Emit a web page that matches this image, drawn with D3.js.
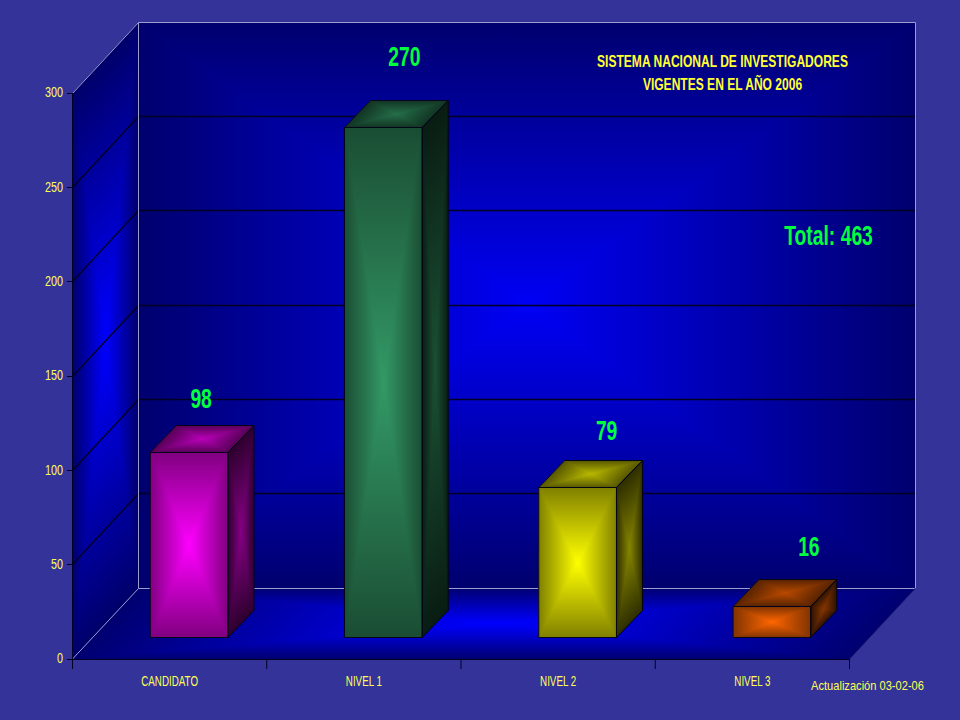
<!DOCTYPE html>
<html>
<head>
<meta charset="utf-8">
<script src="https://cdn.jsdelivr.net/npm/d3@7"></script>
<style>
  html, body { margin: 0; padding: 0; background: #333399; overflow: hidden; }
  text { font-family: "Liberation Sans", Arial, sans-serif; }
</style>
</head>
<body>
<div id="chart"></div>
<script>
//DATA
var categories = ["CANDIDATO", "NIVEL 1", "NIVEL 2", "NIVEL 3"];
var values = [98, 270, 79, 16];
var barColors = ["#ff00ff", "#339966", "#ffff00", "#ff6600"];
var yTicks = [0, 50, 100, 150, 200, 250, 300];
var titleLines = ["SISTEMA NACIONAL DE INVESTIGADORES", "VIGENTES EN EL AÑO 2006"];
var totalLabel = "Total: 463";
var updateLabel = "Actualización 03-02-06";

//SIZING
var width = 960, height = 720;
var plotLeft = 72.5, plotRight = 849.5, plotBottom = 659, plotTop = 93;
// how far the back wall sits from the front of the box
var wallDx = 66, wallDy = -71;
// bars stand a bit inside the floor and have their own depth
var barDx = 19.5, barDy = -22, depthDx = 26, depthDy = -27;
// the value labels were placed by hand in the original
var labelNudge = [[12, -27], [21, -44], [29, -30], [37, -33]];

var svg = d3.select("#chart").append("svg")
    .attr("width", width)
    .attr("height", height);
var defs = svg.append("defs");

var x = d3.scaleBand().domain(categories).range([plotLeft, plotRight]);
var y = d3.scaleLinear().domain([0, 300]).range([plotBottom, plotTop]);

var gradCount = 0;

// paints a parallelogram darker at the edges, brightest at its middle point
// p = corner, u and v = the two side vectors
function pathGradient(parent, p, u, v, edge, centre) {
    var id = "g" + (gradCount++);
    var vert = defs.append("linearGradient").attr("id", id + "v")
        .attr("gradientUnits", "userSpaceOnUse")
        .attr("x1", 0).attr("y1", 0).attr("x2", 0).attr("y2", 1);
    var horiz = defs.append("linearGradient").attr("id", id + "h")
        .attr("gradientUnits", "userSpaceOnUse")
        .attr("x1", 0).attr("y1", 0).attr("x2", 1).attr("y2", 0);
    [vert, horiz].forEach(function (g) {
        g.append("stop").attr("offset", 0).attr("stop-color", edge);
        g.append("stop").attr("offset", 0.5).attr("stop-color", centre);
        g.append("stop").attr("offset", 1).attr("stop-color", edge);
    });
    var face = parent.append("g")
        .attr("transform", "matrix(" + [u[0], u[1], v[0], v[1], p[0], p[1]].join(",") + ")");
    face.append("rect")
        .attr("width", 1).attr("height", 1)
        .attr("fill", "url(#" + id + "v)");
    face.append("path")
        .attr("d", "M0,0L0.5,0.5L0,1ZM1,0L0.5,0.5L1,1Z")
        .attr("fill", "url(#" + id + "h)");
}

function shade(color, k) {
    var c = d3.rgb(color);
    return d3.rgb(c.r * k, c.g * k, c.b * k).formatHex();
}

function outline(parent, points, color) {
    parent.append("polygon")
        .attr("points", points.map(function (d) { return d.join(","); }).join(" "))
        .attr("fill", "none")
        .attr("stroke", color)
        .attr("stroke-width", 1)
        .attr("stroke-linejoin", "round");
}

// narrow text: the original font is squeezed sideways
function squeezed(txt, cx, cy, size, sx, color, weight, anchor) {
    return svg.append("text")
        .attr("transform", "translate(" + cx + "," + cy + ") scale(" + sx + ",1)")
        .attr("text-anchor", anchor || "middle")
        .attr("dominant-baseline", "central")
        .style("font-size", size + "px")
        .style("font-weight", weight || "normal")
        .attr("fill", color)
        .text(txt);
}

// keeps thin lines on a whole pixel row
function snap(v) {
    return Math.floor(v) + 0.5;
}

//WALLS
var walls = svg.append("g");
var plotW = plotRight - plotLeft, plotH = plotBottom - plotTop;
var wallEdge = "#00006e", wallCentre = "#0000f5";

pathGradient(walls, [plotLeft + wallDx, plotTop + wallDy], [plotW, 0], [0, plotH], wallEdge, wallCentre);
pathGradient(walls, [plotLeft, plotTop], [wallDx, wallDy], [0, plotH], "#00006a", "#0000ff");
pathGradient(walls, [plotLeft, plotBottom], [plotW, 0], [wallDx, wallDy], "#000070", "#0000ff");

//GRID
var grid = svg.append("g");
yTicks.slice(1, -1).forEach(function (t) {
    var gy = snap(y(t));
    grid.append("path")
        .attr("d", d3.line()([[plotLeft, gy], [plotLeft + wallDx, gy + wallDy], [plotRight + wallDx, gy + wallDy]]))
        .attr("fill", "none")
        .attr("stroke", "#000022")
        .attr("stroke-width", 1.3);
});

// light frame of the back wall
var frameColor = "#9c9ccf";
grid.append("path")
    .attr("d", d3.line()([[plotLeft, snap(plotTop)], [plotLeft + wallDx, snap(plotTop) + wallDy], [plotRight + wallDx, snap(plotTop) + wallDy],
        [plotRight + wallDx, snap(plotBottom) + wallDy], [plotLeft + wallDx, snap(plotBottom) + wallDy], [plotLeft, plotBottom]]))
    .attr("fill", "none")
    .attr("stroke", frameColor)
    .attr("stroke-width", 1);
grid.append("line")
    .attr("x1", plotLeft + wallDx).attr("y1", snap(plotTop) + wallDy)
    .attr("x2", plotLeft + wallDx).attr("y2", snap(plotBottom) + wallDy)
    .attr("stroke", frameColor);
grid.append("line")
    .attr("x1", plotRight).attr("y1", plotBottom)
    .attr("x2", plotRight + wallDx).attr("y2", plotBottom + wallDy)
    .attr("stroke", "#14146a");

//BARS
var barW = x.bandwidth() * 0.4;
values.forEach(function (v, i) {
    var g = svg.append("g");
    var x0 = x(categories[i]) + (x.bandwidth() - barW) / 2 + barDx;
    var y0 = snap(y(v) + barDy);
    var h = snap(y(0) + barDy) - y0;
    var base = barColors[i];

    pathGradient(g, [x0 + barW, y0], [depthDx, depthDy], [0, h], shade(base, 0.18), shade(base, 0.52));
    pathGradient(g, [x0, y0], [barW, 0], [depthDx, depthDy], shade(base, 0.34), shade(base, 0.72));
    pathGradient(g, [x0, y0], [barW, 0], [0, h], shade(base, 0.5), base);

    outline(g, [[x0, y0], [x0 + barW, y0], [x0 + barW, y0 + h], [x0, y0 + h]], "#050518");
    outline(g, [[x0, y0], [x0 + depthDx, y0 + depthDy], [x0 + barW + depthDx, y0 + depthDy], [x0 + barW, y0]], "#050518");
    outline(g, [[x0 + barW, y0], [x0 + barW + depthDx, y0 + depthDy], [x0 + barW + depthDx, y0 + h + depthDy], [x0 + barW, y0 + h]], "#050518");

    var cx = x0 + barW / 2 + labelNudge[i][0];
    var cy = y0 + depthDy + labelNudge[i][1];
    squeezed(String(v), cx, cy, 28, 0.69, "#00ff3c", "bold");
});

//AXES
var axisLabel = "#ffff55";
var yAxis = svg.append("g")
    .attr("transform", "translate(" + plotLeft + ",0)")
    .call(d3.axisLeft(y).tickValues(yTicks).tickSize(6).tickSizeOuter(0).offset(0));
yAxis.selectAll("line").attr("stroke", "#000020").attr("shape-rendering", "crispEdges");
yAxis.select(".domain").attr("stroke", "#000020").attr("shape-rendering", "crispEdges");
yAxis.selectAll("text")
    .attr("x", 0)
    .attr("dy", null)
    .attr("dominant-baseline", "central")
    .attr("text-anchor", "end")
    .attr("fill", axisLabel)
    .style("font-size", "14px")
    .attr("transform", "translate(-9.5,0) scale(0.77,1)");

var xAxis = svg.append("g")
    .attr("transform", "translate(0," + plotBottom + ")")
    .call(d3.axisBottom(x).tickSize(0).tickSizeOuter(0));
xAxis.select(".domain").attr("stroke", "#000020").attr("shape-rendering", "crispEdges");
xAxis.selectAll("text")
    .attr("y", 0)
    .attr("dy", null)
    .attr("dominant-baseline", "central")
    .attr("fill", axisLabel)
    .style("font-size", "14px")
    .attr("transform", "translate(0,22) scale(0.7,1)");

// ticks of the x axis fall between the categories
categories.map(function (c) { return x(c); }).concat([plotRight]).forEach(function (px) {
    svg.append("line")
        .attr("x1", px).attr("x2", px)
        .attr("y1", plotBottom).attr("y2", plotBottom + 10)
        .attr("stroke", "#000020");
});

//TEXT
squeezed(titleLines[0], 722.5, 61, 16.5, 0.73, "#ffff33", "bold");
squeezed(titleLines[1], 722.5, 84, 16.5, 0.73, "#ffff33", "bold");
squeezed(totalLabel, 828.5, 235, 28, 0.69, "#00ff3c", "bold");
squeezed(updateLabel, 867.5, 686, 13, 0.855, axisLabel);
</script>
</body>
</html>
